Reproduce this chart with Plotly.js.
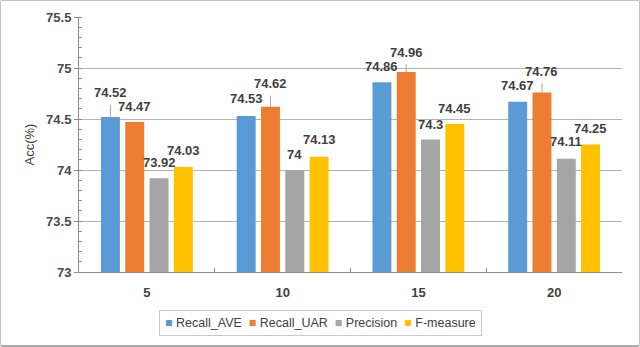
<!DOCTYPE html>
<html>
<head>
<meta charset="utf-8">
<script src="https://cdn.plot.ly/plotly-3.0.1.min.js"></script>
<style>
  html, body { margin: 0; padding: 0; background: #fff; }
  #wrap { position: relative; width: 640px; height: 347px; }
  #chart { width: 640px; height: 347px; }
  #frame { position: absolute; left: 0; top: 0; width: 640px; height: 347px; box-sizing: border-box;
           border: 1px solid #c4c4c4; border-bottom: 2px solid #a9a9a9; border-radius: 2px; pointer-events: none; }
</style>
</head>
<body>
<div id="wrap"><div id="chart"></div><div id="frame"></div></div>
<script>
// ---- data ----
const categories = ['5', '10', '15', '20'];
const seriesNames = ['Recall_AVE', 'Recall_UAR', 'Precision', 'F-measure'];
const recallAVE = [74.52, 74.53, 74.86, 74.67];
const recallUAR = [74.47, 74.62, 74.96, 74.76];
const precision = [73.92, 74.00, 74.30, 74.11];
const fMeasure  = [74.03, 74.13, 74.45, 74.25];
const yTickVals = [73, 73.5, 74, 74.5, 75, 75.5];

// ---- style ----
const colors = ['#5B9BD5', '#ED7D31', '#A5A5A5', '#FFC000'];
// label lift in px above bar top, [category][series]; leader line when lifted more
const labelLift = [[24, 16, 16, 16], [17, 23, 16, 17], [16, 20, 15, 16], [16, 21, 17, 16]];
const bargap = 0.284, bargroupgap = 0.22;
const textColor = '#404040';
const axisColor = '#8c8c8c';
const fam = 'Liberation Sans, Arial, sans-serif';

const series = [recallAVE, recallUAR, precision, fMeasure];

const traces = series.map((vals, k) => ({
  type: 'bar',
  name: seriesNames[k],
  x: categories,
  y: vals,
  marker: { color: colors[k], line: { width: 0 } },
  hoverinfo: 'none',
  showlegend: false
}));

const slot = (1 - bargap) / series.length;
const annotations = [];
series.forEach((vals, k) => {
  vals.forEach((v, i) => {
    const xPos = i + (k - (series.length - 1) / 2) * slot;
    const lift = labelLift[i][k];
    const base = {
      xref: 'x', yref: 'y', x: xPos, y: v,
      text: '<b>' + String(v) + '</b>',
      font: { family: fam, size: 13, color: textColor }
    };
    if (lift > 18) {
      annotations.push(Object.assign(base, {
        showarrow: true, ax: 0, ay: -lift, arrowhead: 0, arrowwidth: 1,
        arrowcolor: '#a6a6a6', standoff: 0, borderpad: 4
      }));
    } else {
      annotations.push(Object.assign(base, { showarrow: false, yshift: lift }));
    }
  });
});

// legend built from names and colours
const legendText = seriesNames.map((n, k) =>
  '<span style="color:' + colors[k] + '">■</span> ' + n).join('  ');
annotations.push({
  xref: 'paper', yref: 'paper', x: 0.445, y: -0.2, xanchor: 'center', yanchor: 'middle',
  showarrow: false, text: legendText,
  font: { family: fam, size: 12.5, color: textColor },
  bordercolor: '#c8c8c8', borderwidth: 1, borderpad: 5, bgcolor: '#ffffff'
});

const layout = {
  width: 640, height: 347,
  margin: { l: 79, r: 18, t: 17, b: 75 },
  paper_bgcolor: '#ffffff', plot_bgcolor: '#ffffff',
  barmode: 'group', bargap: bargap, bargroupgap: bargroupgap,
  showlegend: false,
  xaxis: {
    type: 'category',
    showline: true, linecolor: axisColor, linewidth: 1,
    ticks: 'inside', tickson: 'boundaries', ticklen: 4, tickcolor: axisColor,
    showgrid: false, ticklabelstandoff: 8,
    tickvals: categories, ticktext: categories.map(c => '<b>' + c + '</b>'),
    tickfont: { family: fam, size: 13, color: textColor }
  },
  yaxis: {
    range: [73, 75.5],
    tickvals: yTickVals, ticktext: yTickVals.map(v => '<b>' + String(v) + '</b>'),
    showline: true, linecolor: axisColor, linewidth: 1,
    ticks: 'outside', ticklen: 4, tickcolor: axisColor,
    gridcolor: '#b3b3b3', gridwidth: 1, zeroline: false,
    minor: { dtick: 0.1, ticks: 'inside', ticklen: 3, tickcolor: axisColor, showgrid: false },
    tickfont: { family: fam, size: 13, color: '#4a4a4a' },
    title: { text: 'Acc(%)', standoff: 8, font: { family: fam, size: 13, color: textColor } }
  },
  annotations: annotations
};

Plotly.newPlot('chart', traces, layout, { displayModeBar: false, staticPlot: true });
</script>
</body>
</html>
